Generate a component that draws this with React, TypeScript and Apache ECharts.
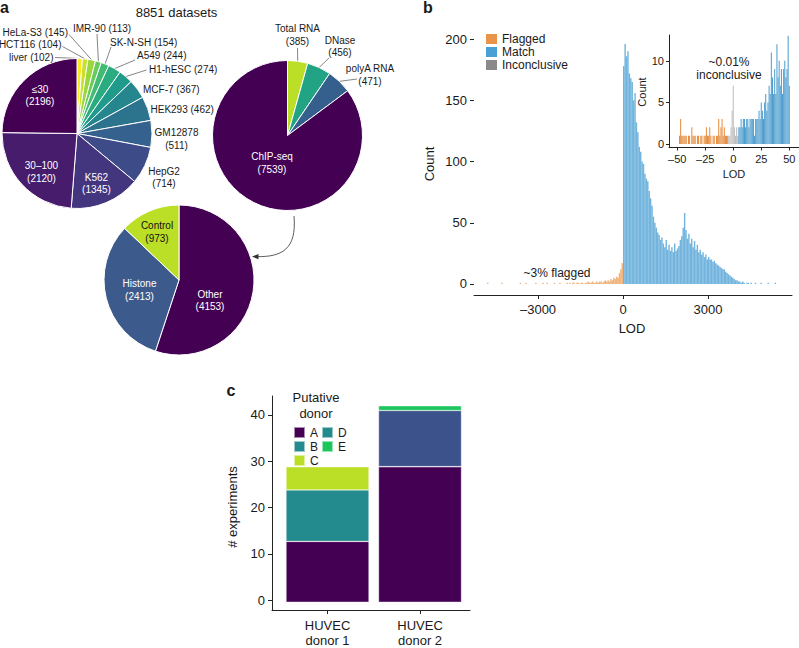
import React, { useEffect, useRef } from 'react';
import * as echarts from 'echarts';

// ---------------- Panel a data ----------------
const cellLineNames = ['liver', 'HCT116', 'HeLa-S3', 'IMR-90', 'SK-N-SH', 'A549', 'H1-hESC', 'MCF-7', 'HEK293', 'GM12878', 'HepG2', 'K562', '30–100', '≤30'];
const cellLineCounts = [102, 104, 145, 113, 154, 244, 274, 367, 462, 511, 714, 1345, 2120, 2196];
const assayNames = ['Total RNA', 'DNase', 'polyA RNA', 'ChIP-seq'];
const assayCounts = [385, 456, 471, 7539];
const chipNames = ['Other', 'Histone', 'Control'];
const chipCounts = [4153, 2413, 973];
const datasetsTitle = '8851 datasets';

// ---------------- Panel b data ----------------
const lodBinWidth = 50;
const matchStart = 0;
const matchCounts = [
  178, 196, 186, 190, 172, 168, 165, 150, 156, 132,
  124, 112, 108, 100, 98, 90, 86, 84, 76, 70,
  64, 55, 50, 46, 42, 40, 36, 38, 33, 30,
  36, 28, 32, 27, 30, 26, 33, 27, 29, 31,
  36, 39, 46, 58, 44, 37, 41, 33, 37, 30,
  35, 28, 32, 26, 28, 24, 26, 22, 24, 20,
  22, 20, 20, 18, 19, 17, 16, 15, 14, 13,
  12, 12, 10, 9, 8, 7, 6, 5, 4, 3,
  3, 2, 2, 1, 2, 1, 0, 1, 1, 0,
  1, 0, 0, 1, 0, 0, 0, 1, 0, 0,
  0, 0, 1, 0, 0, 0, 0, 1,
];
// [bin start, count]
const flaggedBins: [number, number][] = [
  [-4800, 1], [-4300, 1], [-3650, 1], [-3450, 1], [-3100, 1], [-2850, 1], [-2700, 1], [-2450, 1],
  [-2250, 1], [-2000, 1], [-1900, 1], [-1800, 1], [-1750, 1], [-1650, 1], [-1600, 1], [-1500, 1],
  [-1450, 1], [-1350, 1], [-1300, 1], [-1250, 2], [-1200, 1], [-1150, 1], [-1100, 2], [-1050, 1],
  [-1000, 1], [-950, 2], [-900, 1], [-850, 2], [-800, 2], [-750, 1], [-700, 2], [-650, 3],
  [-600, 2], [-550, 3], [-500, 2], [-450, 4], [-400, 3], [-350, 5], [-300, 4], [-250, 6],
  [-200, 5], [-150, 9], [-100, 12], [-50, 17],
];
const insetFlaggedStart = -48;
const insetFlaggedCounts = [1, 3, 1, 1, 1, 1, 1, 0, 1, 1, 0, 2, 1, 1, 1, 0, 1, 1, 0, 1, 1, 0, 1, 1, 2, 1, 1, 2, 1, 0, 1, 1, 0, 1, 1, 3, 1, 2, 3, 1, 2, 1, 1, 1];
const insetInconclusiveStart = -4;
const insetInconclusiveCounts = [1, 1, 2, 4, 7, 2, 1, 2, 1];
const insetMatchStart = 5;
const insetMatchCounts = [2, 2, 3, 2, 3, 3, 2, 3, 3, 2, 3, 3, 3, 3, 1, 3, 3, 3, 4, 3, 5, 4, 3, 5, 6, 4, 5, 7, 6, 11, 8, 6, 9, 6, 12, 8, 10, 7, 9, 6, 9, 10, 8, 9, 13, 7];
const lodTicks = [-3000, 0, 3000];
const countTicks = [0, 50, 100, 150, 200];
const insetLodTicks = [-50, -25, 0, 25, 50];
const insetCountTicks = [0, 5, 10];
const legendNamesB = ['Flagged', 'Match', 'Inconclusive'];

// ---------------- Panel c data ----------------
const donorCategories = ['HUVEC\ndonor 1', 'HUVEC\ndonor 2'];
const donorNames = ['A', 'B', 'C', 'D', 'E'];
const donorA = [13, 29];
const donorB = [11, 0];
const donorC = [5, 0];
const donorD = [0, 12];
const donorE = [0, 1];
const experimentTicks = [0, 10, 20, 30, 40];

// ---------------- styles ----------------
const FONT = '"Liberation Sans", Arial, Helvetica, sans-serif';
const TXT = '#1a1a1a';
const VIR = ['#440154', '#482878', '#3E4A89', '#31688E', '#26828E', '#1F9E89', '#35B779', '#6DCD59', '#B4DE2C', '#FDE725'];
function hex(h: string) {
  return [parseInt(h.slice(1, 3), 16), parseInt(h.slice(3, 5), 16), parseInt(h.slice(5, 7), 16)];
}
function viridis(t: number) {
  const s = Math.max(0, Math.min(1, t)) * 9;
  const i = Math.min(8, Math.floor(s));
  const f = s - i;
  const a = hex(VIR[i]);
  const b = hex(VIR[i + 1]);
  const c = a.map((v, k) => Math.round(v + (b[k] - v) * f));
  return `rgb(${c[0]},${c[1]},${c[2]})`;
}
const cellColors = cellLineNames.map((_, i) => viridis(1 - i / (cellLineNames.length - 1)));
const assayColors = ['#BBDF27', '#22A384', '#35608D', '#440154'];
const chipColors = ['#440154', '#3D5A8C', '#BBDF27'];
const donorBarColors = ['#440154', '#238A8D', '#BBDF27', '#3B528B', '#1DC65D'];
const donorLegendColors = ['#440154', '#238A8D', '#BBDF27', '#238A8D', '#1DC65D'];
const bColors = { flagged: '#E8954A', match: '#4A9FD4', inconclusive: '#8A8A8A' };

type Spec = { x: number; y: number; align?: string; color?: string; line?: [number, number]; oneLine?: boolean };
const cellLayout: Record<string, Spec> = {
  'liver': { x: 53.5, y: 57, align: 'right', line: [55, 57.5], oneLine: true },
  'HCT116': { x: 61.5, y: 44, align: 'right', line: [62.5, 46.5], oneLine: true },
  'HeLa-S3': { x: 68, y: 32.5, align: 'right', line: [69, 34.5], oneLine: true },
  'IMR-90': { x: 102, y: 28, align: 'center', line: [97, 34], oneLine: true },
  'SK-N-SH': { x: 110, y: 42, align: 'left', line: [111, 47], oneLine: true },
  'A549': { x: 137, y: 55.5, align: 'left', line: [135, 60], oneLine: true },
  'H1-hESC': { x: 149, y: 69, align: 'left', line: [146.5, 70], oneLine: true },
  'MCF-7': { x: 143, y: 89, align: 'left', oneLine: true },
  'HEK293': { x: 150.5, y: 109, align: 'left', oneLine: true },
  'GM12878': { x: 176.5, y: 139, align: 'center' },
  'HepG2': { x: 164, y: 177.5, align: 'center' },
  'K562': { x: 96.5, y: 183.5, align: 'center', color: '#fff' },
  '30–100': { x: 41.5, y: 172, align: 'center', color: '#fff' },
  '≤30': { x: 40, y: 95.5, align: 'center', color: '#fff' },
};
const assayLayout: Record<string, Spec> = {
  'Total RNA': { x: 297.5, y: 35, align: 'center', line: [297.5, 48] },
  'DNase': { x: 340, y: 46.5, align: 'center', line: [329, 58] },
  'polyA RNA': { x: 370, y: 75, align: 'center', line: [357, 79] },
  'ChIP-seq': { x: 272, y: 163, align: 'center', color: '#fff' },
};
const chipLayout: Record<string, Spec> = {
  'Other': { x: 210, y: 300.5, align: 'center', color: '#fff' },
  'Histone': { x: 139.5, y: 290, align: 'center', color: '#fff' },
  'Control': { x: 157, y: 232, align: 'center', color: '#111' },
};

function pieSeries(names: string[], counts: number[], colors: string[], layout: Record<string, Spec>, center: [number, number]) {
  return {
    type: 'pie',
    center,
    radius: 75,
    startAngle: 90,
    clockwise: true,
    avoidLabelOverlap: false,
    silent: true,
    emphasis: { disabled: true },
    itemStyle: { borderColor: '#fff', borderWidth: 1 },
    label: {
      show: true,
      position: 'outside',
      fontSize: 10,
      lineHeight: 12.5,
      fontFamily: FONT,
      color: TXT,
      formatter: (p: any) => (layout[p.name].oneLine ? `${p.name} (${p.value})` : `${p.name}\n(${p.value})`),
    },
    labelLine: { show: false, lineStyle: { color: '#333', width: 0.6 } },
    data: names.map((n, i) => ({
      name: n,
      value: counts[i],
      itemStyle: { color: colors[i] },
      label: { color: layout[n].color || TXT, position: layout[n].color ? 'inside' : 'outside' },
      labelLine: { show: !!layout[n].line },
    })),
    labelLayout: (params: any) => {
      const spec = layout[names[params.dataIndex]];
      const res: any = { x: spec.x, y: spec.y, align: spec.align || 'center', verticalAlign: 'middle' };
      if (spec.line && params.labelLinePoints && params.labelLinePoints.length) {
        const p0 = params.labelLinePoints[0];
        res.labelLinePoints = [p0, [(p0[0] + spec.line[0]) / 2, (p0[1] + spec.line[1]) / 2], spec.line];
      }
      return res;
    },
  };
}

function txt(text: string, x: number, y: number, fontSize: number, extra: any = {}) {
  return {
    type: 'text',
    x,
    y,
    rotation: extra.rotation || 0,
    silent: true,
    style: {
      text,
      fontSize,
      fontFamily: FONT,
      fontWeight: extra.bold ? 'bold' : 'normal',
      fill: extra.color || TXT,
      align: extra.align || 'center',
      verticalAlign: 'middle',
      lineHeight: extra.lineHeight,
    },
  };
}

const axisLineStyle = { color: '#222', width: 1 };
const dash = (v: number) => (v < 0 ? '–' + Math.abs(v) : String(v));

function buildOption(): any {
  const mainFlagged = flaggedBins.map(([s, c]) => [s + lodBinWidth / 2, c]);
  const mainMatch = matchCounts.map((c, i) => [matchStart + i * lodBinWidth + lodBinWidth / 2, c]).filter((d) => d[1] > 0);
  const insetF = insetFlaggedCounts.map((c, i) => [insetFlaggedStart + i, c]).filter((d) => d[1] > 0);
  const insetI = insetInconclusiveCounts.map((c, i) => [insetInconclusiveStart + i, c]).filter((d) => d[1] > 0);
  const insetM = insetMatchCounts.map((c, i) => [insetMatchStart + i, c]).filter((d) => d[1] > 0);
  const donorSeriesValues = [donorA, donorB, donorC, donorD, donorE];

  const histBar = (name: string, data: number[][], color: string, opacity: number, idx: number, width: number) => ({
    type: 'bar',
    name,
    xAxisIndex: idx,
    yAxisIndex: idx,
    data,
    barWidth: width,
    barGap: '-100%',
    silent: true,
    itemStyle: { color, opacity },
  });

  const valueAxis = (grid: number, min: number, max: number, ticks: number[], fontSize: number, margin: number, tickLen: number, showLine: boolean, extraLabel: any = {}) => ({
    type: 'value', gridIndex: grid, min, max,
    axisLine: { show: showLine, onZero: false, lineStyle: axisLineStyle },
    axisTick: { show: true, customValues: ticks, length: tickLen, lineStyle: axisLineStyle },
    axisLabel: { customValues: ticks, formatter: dash, fontSize, color: TXT, margin, ...extraLabel },
    splitLine: { show: false },
  });

  const legendBase = {
    orient: 'vertical', itemWidth: 11, itemHeight: 11, itemGap: 1, padding: 0,
    selectedMode: false, icon: 'rect',
    textStyle: { fontSize: 12, color: TXT, lineHeight: 11 },
  };

  return {
    animation: false,
    textStyle: { fontFamily: FONT },
    grid: [
      { left: 474, top: 33, width: 318, height: 262 },
      { left: 669, top: 35, width: 130, height: 112.5 },
      { left: 272, top: 396, width: 198, height: 216 },
      { left: 281.25, top: 396, width: 185, height: 216 },
    ],
    xAxis: [
      valueAxis(0, -5260, 5965, lodTicks, 13, 8, 4, true),
      valueAxis(1, -57.4, 58.7, insetLodTicks, 11, 6, 3, true),
      valueAxis(2, 0.4, 2.54, [1, 2], 13, 8, 4, true, {
        formatter: (v: number) => donorCategories[Math.round(v) - 1] || '',
        lineHeight: 15,
      }),
      { type: 'category', gridIndex: 3, data: donorCategories, show: false },
    ],
    yAxis: [
      valueAxis(0, -9, 205, countTicks, 13, 7, 4, false),
      valueAxis(1, -0.42, 13.1, insetCountTicks, 11, 5, 3, true),
      valueAxis(2, -2.1, 44.1, experimentTicks, 13, 7, 4, true),
      { type: 'value', gridIndex: 3, min: -2.1, max: 44.1, show: false, splitLine: { show: false } },
    ],
    legend: [
      {
        ...legendBase,
        left: 486, top: 33, itemHeight: 10,
        data: legendNamesB.map((n, i) => ({ name: n, itemStyle: { color: [bColors.flagged, bColors.match, bColors.inconclusive][i], opacity: 1 } })),
      },
      {
        ...legendBase,
        left: 293, top: 426,
        data: donorNames.slice(0, 3).map((n, i) => ({ name: n, itemStyle: { color: donorLegendColors[i] } })),
      },
      {
        ...legendBase,
        left: 321, top: 426,
        data: donorNames.slice(3).map((n, i) => ({ name: n, itemStyle: { color: donorLegendColors[i + 3] } })),
      },
    ],
    series: [
      pieSeries(cellLineNames, cellLineCounts, cellColors, cellLayout, [77, 133.5]),
      pieSeries(assayNames, assayCounts, assayColors, assayLayout, [287.5, 135.5]),
      pieSeries(chipNames, chipCounts, chipColors, chipLayout, [179, 280]),
      histBar('Flagged', mainFlagged, bColors.flagged, 0.72, 0, 1.42),
      histBar('Match', mainMatch, bColors.match, 0.78, 0, 1.42),
      histBar('Flagged', insetF, '#E58B3D', 1, 1, 1.0),
      histBar('Inconclusive', insetI, '#BDBDBD', 1, 1, 1.0),
      histBar('Match', insetM, '#4A9BCD', 1, 1, 1.0),
      ...donorNames.map((n, k) => ({
        type: 'bar',
        name: n,
        stack: 'donor',
        xAxisIndex: 3,
        yAxisIndex: 3,
        barWidth: 83,
        silent: true,
        itemStyle: { color: donorBarColors[k], borderColor: 'rgba(255,255,255,0.55)', borderWidth: 0.6 },
        data: donorSeriesValues[k],
      })),
    ],
    graphic: [
      txt('a', 0, 7.5, 16, { bold: true, align: 'left' }),
      txt(datasetsTitle, 176.5, 12, 13),
      txt('b', 423, 7.5, 16, { bold: true, align: 'left' }),
      txt('c', 226.5, 390.5, 16, { bold: true, align: 'left' }),
      {
        type: 'bezierCurve',
        silent: true,
        shape: { x1: 294, y1: 216, cpx1: 297, cpy1: 250, cpx2: 281, cpy2: 257, x2: 257, y2: 256.6 },
        style: { stroke: '#333', lineWidth: 0.8, fill: 'none' },
      },
      {
        type: 'polygon',
        silent: true,
        shape: { points: [[252, 256.6], [258.5, 254], [258.5, 259.2]] },
        style: { fill: '#333' },
      },
      txt('Count', 429, 164, 13, { rotation: Math.PI / 2 }),
      txt('LOD', 632, 328, 13),
      txt('~3% flagged', 557, 272.5, 12),
      txt('~0.01%\ninconclusive', 729, 68.5, 12, { lineHeight: 13 }),
      txt('Count', 642, 92, 11, { rotation: Math.PI / 2 }),
      txt('LOD', 734, 174, 11),
      txt('# experiments', 232, 507, 13, { rotation: Math.PI / 2 }),
      txt('Putative\ndonor', 316, 405, 13, { lineHeight: 16 }),
    ],
  };
}

export default function App() {
  const ref = useRef<HTMLDivElement>(null);
  useEffect(() => {
    if (!ref.current) return;
    const chart = echarts.init(ref.current, null, { renderer: 'svg' });
    chart.setOption(buildOption());
    return () => chart.dispose();
  }, []);
  return <div ref={ref} style={{ position: 'fixed', left: 0, top: 0, width: 799, height: 648, background: '#fff' }} />;
}
